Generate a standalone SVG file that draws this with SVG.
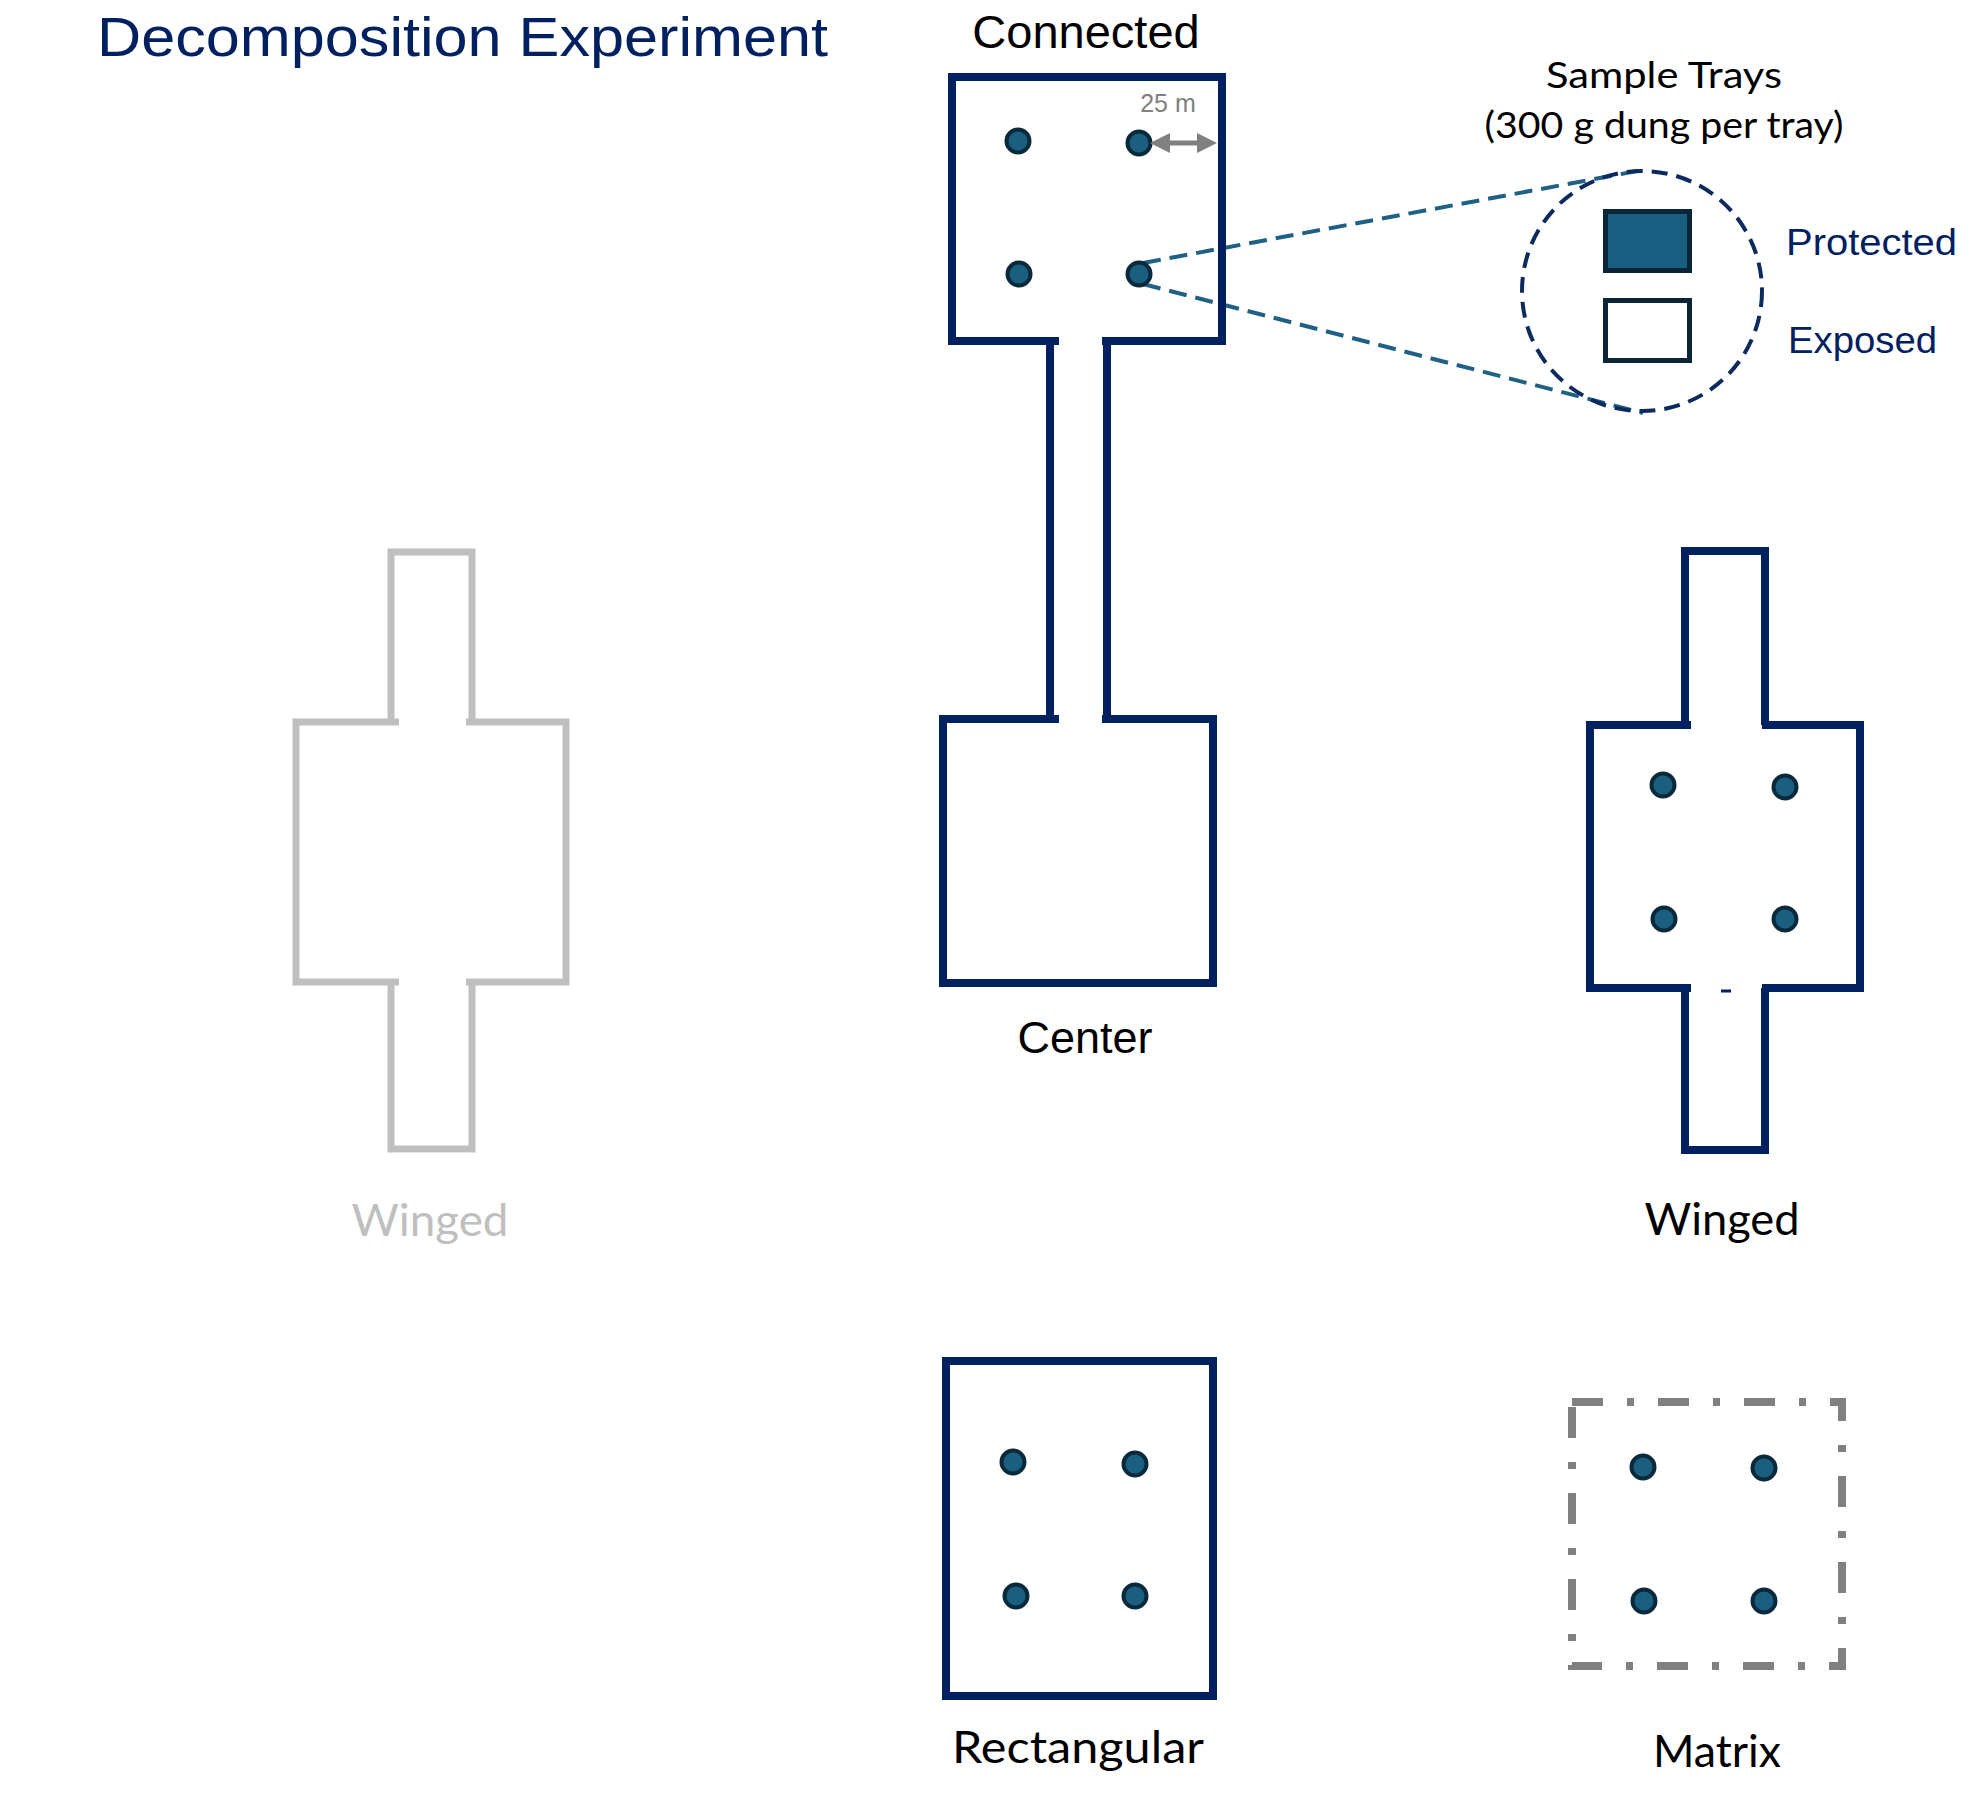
<svg xmlns="http://www.w3.org/2000/svg" width="1972" height="1807" viewBox="0 0 1972 1807">
<style>
.wall{fill:none;stroke:#002060;stroke-width:8;stroke-linejoin:miter;stroke-linecap:butt}
.ghost{fill:none;stroke:#bfbfbf;stroke-width:7;stroke-linejoin:miter}
.dot{fill:#1a5f80;stroke:#0a2a3c;stroke-width:4}
.sans{font-family:"Liberation Sans",Arial,sans-serif}
.lato{font-family:Lato,"Liberation Sans",sans-serif}
.lbl{font-size:44px;fill:#000;text-anchor:middle}
.conn{fill:none;stroke:#1f6085;stroke-width:4;stroke-dasharray:18 9}
</style>
<defs>
<marker id="ah" markerUnits="userSpaceOnUse" markerWidth="20" markerHeight="20" refX="10" refY="10" orient="auto-start-reverse">
<path d="M0,0 L20,10 L0,20 z" fill="#808080"/>
</marker>
</defs>
<rect width="1972" height="1807" fill="#fff"/>
<text class="sans" x="97" y="56" font-size="56" fill="#002060" textLength="731" lengthAdjust="spacingAndGlyphs">Decomposition Experiment</text>

<g id="connectors">
<line class="conn" x1="1143" y1="263" x2="1643" y2="170"/>
<line class="conn" x1="1143" y1="284" x2="1643" y2="413"/>
</g>

<g id="connected-center">
<path class="wall" d="M1059,341 H952 V77 H1222 V341 H1102"/>
<path class="wall" d="M1050,341 V719 M1107,341 V719"/>
<path class="wall" d="M1059,719 H943 V983 H1213 V719 H1102"/>
<circle class="dot" cx="1018" cy="141" r="11.5"/>
<circle class="dot" cx="1139" cy="143" r="11.5"/>
<circle class="dot" cx="1019" cy="274" r="11.5"/>
<circle class="dot" cx="1139" cy="274" r="11.5"/>
<line x1="1160" y1="143" x2="1207" y2="143" stroke="#808080" stroke-width="5" marker-start="url(#ah)" marker-end="url(#ah)"/>
<text class="sans" x="1168" y="112" font-size="25" fill="#808080" text-anchor="middle">25 m</text>
<text class="sans" x="1086" y="48" font-size="47" fill="#000" text-anchor="middle">Connected</text>
<text class="sans" x="1085" y="1053" font-size="45" fill="#000" text-anchor="middle">Center</text>
</g>

<g id="sample-trays">
<circle cx="1642" cy="291" r="120" fill="none" stroke="#0d2a5e" stroke-width="4" stroke-dasharray="16 9"/>
<rect x="1605.5" y="211.5" width="84" height="59" fill="#175e80" stroke="#0a2535" stroke-width="5"/>
<rect x="1605.5" y="300.5" width="84" height="60" fill="#fff" stroke="#0a2535" stroke-width="5"/>
<text class="lato" x="1664" y="88" font-size="36" fill="#000" text-anchor="middle" textLength="236" lengthAdjust="spacingAndGlyphs">Sample Trays</text>
<text class="lato" x="1664" y="138" font-size="36" fill="#000" text-anchor="middle" textLength="359" lengthAdjust="spacingAndGlyphs">(300 g dung per tray)</text>
<text class="sans" x="1786" y="255" font-size="37" fill="#002060" textLength="171" lengthAdjust="spacingAndGlyphs">Protected</text>
<text class="sans" x="1788" y="353" font-size="37" fill="#002060" textLength="149" lengthAdjust="spacingAndGlyphs">Exposed</text>
</g>

<g id="winged-ghost">
<path class="ghost" d="M391,722 V552 H472 V722"/>
<path class="ghost" d="M399,722 H296 V982 H399 M466,722 H566 V982 H466"/>
<path class="ghost" d="M391,982 V1149 H472 V982"/>
<text class="lato lbl" x="430" y="1236" style="fill:#bfbfbf" textLength="157" lengthAdjust="spacingAndGlyphs">Winged</text>
</g>

<g id="winged">
<path class="wall" d="M1685,725 V551 H1765 V725"/>
<path class="wall" d="M1691,725 H1590 V988 H1691 M1762,725 H1860 V988 H1762"/>
<path class="wall" d="M1685,988 V1150 H1765 V988"/>
<line x1="1721" y1="991" x2="1731" y2="991" stroke="#002060" stroke-width="3"/>
<circle class="dot" cx="1663" cy="785" r="11.5"/>
<circle class="dot" cx="1785" cy="787" r="11.5"/>
<circle class="dot" cx="1664" cy="919" r="11.5"/>
<circle class="dot" cx="1785" cy="919" r="11.5"/>
<text class="lato lbl" x="1722" y="1235" textLength="155" lengthAdjust="spacingAndGlyphs">Winged</text>
</g>

<g id="rectangular">
<rect class="wall" x="946" y="1361" width="267" height="335"/>
<circle class="dot" cx="1013" cy="1462" r="11.5"/>
<circle class="dot" cx="1135" cy="1464" r="11.5"/>
<circle class="dot" cx="1016" cy="1596" r="11.5"/>
<circle class="dot" cx="1135" cy="1596" r="11.5"/>
<text class="lato lbl" x="1078" y="1763" textLength="252" lengthAdjust="spacingAndGlyphs">Rectangular</text>
</g>

<g id="matrix">
<rect x="1572" y="1402" width="270" height="264" fill="none" stroke="#808080" stroke-width="8" stroke-dasharray="31 24 7 24"/>
<circle class="dot" cx="1643" cy="1467" r="11.5"/>
<circle class="dot" cx="1764" cy="1468" r="11.5"/>
<circle class="dot" cx="1644" cy="1601" r="11.5"/>
<circle class="dot" cx="1764" cy="1601" r="11.5"/>
<text class="lato lbl" x="1717" y="1767" textLength="128" lengthAdjust="spacingAndGlyphs">Matrix</text>
</g>
</svg>
